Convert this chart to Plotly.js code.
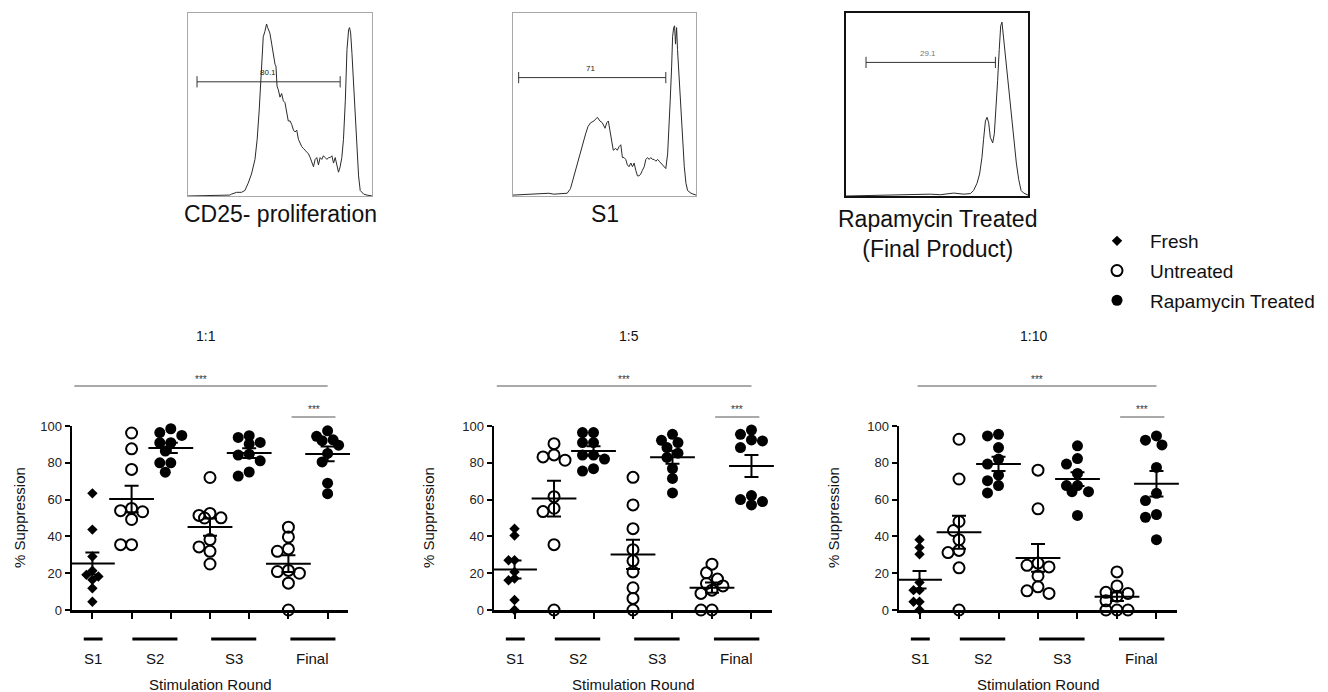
<!DOCTYPE html>
<html><head><meta charset="utf-8">
<script src="https://cdn.plot.ly/plotly-3.0.1.min.js"></script>
<style>html,body{margin:0;padding:0;background:#fff}#chart{width:1328px;height:692px}</style>
</head><body><div id="chart"></div>
<script>
// ---------- labels ----------
const roundLabels = ['S1', 'S2', 'S3', 'Final'];
const ratioLabels = ['1:1', '1:5', '1:10'];
const seriesNames = ['Fresh', 'Untreated', 'Rapamycin Treated'];
const histTitles = ['CD25- proliferation', 'S1', 'Rapamycin Treated<br>(Final Product)'];
const gateLabels = ['80.1', '71', '29.1'];

// ---------- % suppression, ratio 1:1 ----------
const r1_fresh_S1 = [63.4, 43.7, 29.1, 21.3, 19.1, 18.2, 16.4, 11.8, 4.5];
const r1_untreated_S2 = [96.2, 87.6, 76.4, 55.2, 54.0, 53.4, 49.2, 35.5, 35.5];
const r1_rapa_S2 = [98.5, 96.4, 94.9, 90.9, 90.9, 86.4, 80.0, 80.0, 74.9];
const r1_untreated_S3 = [72.0, 52.5, 51.4, 50.1, 50.0, 38.3, 34.3, 31.9, 25.0];
const r1_rapa_S3 = [94.7, 93.8, 91.1, 90.2, 84.7, 84.2, 81.1, 75.0, 72.8];
const r1_untreated_Final = [45.0, 39.7, 33.2, 31.9, 21.5, 20.9, 20.0, 14.6, 0];
const r1_rapa_Final = [97.4, 94.4, 92.5, 92.0, 89.6, 85.1, 80.5, 68.9, 63.2];
// ---------- ratio 1:5 ----------
const r5_fresh_S1 = [44.2, 40.5, 27.0, 27.0, 20.7, 17.1, 16.2, 5.4, 0];
const r5_untreated_S2 = [90.4, 84.3, 83.2, 81.4, 61.6, 55.3, 53.5, 35.5, 0];
const r5_rapa_S2 = [96.4, 96.4, 91.0, 91.0, 84.2, 84.2, 82.0, 76.8, 75.5];
const r5_untreated_S3 = [72.1, 57.1, 44.2, 32.8, 26.7, 20.7, 12.1, 6.3, 0];
const r5_rapa_S3 = [95.5, 92.2, 91.0, 88.3, 85.2, 82.9, 76.9, 71.5, 63.6];
const r5_untreated_Final = [24.9, 20.2, 16.8, 14.4, 13.1, 10.8, 9.0, 0, 0];
const r5_rapa_Final = [97.8, 95.5, 92.4, 91.9, 88.3, 62.2, 60.0, 58.9, 57.1];
// ---------- ratio 1:10 ----------
const r10_fresh_S1 = [38.2, 33.9, 30.3, 15.0, 10.8, 10.8, 4.5, 4.5, 0];
const r10_untreated_S2 = [92.8, 71.2, 48.1, 43.2, 38.2, 32.4, 31.2, 22.9, 0];
const r10_rapa_S2 = [95.5, 94.6, 88.3, 82.0, 79.3, 73.3, 70.3, 67.6, 63.6];
const r10_untreated_S3 = [76.0, 55.0, 25.5, 24.3, 23.4, 18.5, 12.6, 10.4, 9.0];
const r10_rapa_S3 = [89.2, 82.3, 79.3, 74.2, 67.6, 67.6, 64.3, 64.3, 51.4];
const r10_untreated_Final = [20.7, 13.1, 9.6, 9.0, 7.5, 5.0, 0, 0, 0];
const r10_rapa_Final = [94.6, 92.3, 89.7, 77.5, 63.4, 59.5, 51.9, 50.4, 38.2];

// ---------- proliferation histograms (channel, % of max) ----------
const h1_x = [0,227,236,264,291,309,327,345,364,376,387,395,402,409,418,427,433,438,445,455,464,473,478,484,491,500,509,518,527,536,545,555,564,573,582,591,600,609,618,627,636,645,655,664,673,682,691,700,709,718,727,736,745,755,764,773,782,791,800,809,818,827,836,845,855,864,873,878,884,891,900,909,918,927,936,955,973,1000];
const h1_y = [0,0.5,1,2,2,3,7,12,20,31,47,63,78,87,90,94,92,91,89,83,76,72,71,60,58,54,56,52,51,45,41,41,39,36,35,36,31,29,27,26,25,24,23,21,18,16,20,21,17,21,20,22,21,20,21,21,22,18,21,16,13,16,21,31,52,80,91,92,89,78,61,43,25,11,3,1,0.5,0];
const h2_x = [0,113,196,223,296,314,333,351,369,388,397,410,424,442,461,475,488,503,512,521,530,539,548,561,570,580,589,598,607,616,625,634,644,653,662,671,680,689,698,707,717,726,735,744,753,762,771,781,790,799,808,817,826,835,845,854,859,867,872,878,883,888,894,899,909,918,927,936,945,954,973,1000];
const h2_y = [0.5,1,1.5,1,1.5,4,11,18,24,31,34,38,40,41,43,41,40,37,40,41,36,32,25,26,25,27,28,21,21,20,17,16,18,16,18,14,11,11,12,14,16,20,21,20,21,20,20,19,20,19,18,17,16,15,23,38,52,71,87,92,93,83,92,80,61,43,29,16,7,3,1.5,0.5];
const h3_x = [0,335,463,518,592,647,683,701,720,734,747,756,766,775,784,793,806,815,824,833,842,850,857,863,870,881,894,907,921,936,949,962,976,1000];
const h3_y = [0,1,1,0.7,1.6,1,1.3,3,7,12,21,31,41,43,40,32,29,34,47,63,80,93,95,89,80,71,58,45,31,18,9,3,1.6,0.5];
const gate1 = [49, 827], gate2 = [31, 835], gate3 = [110, 821];
const gateLevels = [62.4, 64.7, 73];

// ---------- geometry ----------
const W = 1328, H = 692;
const FONT = 'Liberation Sans, Arial, Helvetica, sans-serif';
const px2x = p => p / W, px2y = p => 1 - p / H;
const histDomX = [[188, 372], [513, 696], [846, 1028]];
const histDomY = [px2y(196), px2y(13)];
const histTitleY = [214, 214, 234];
const gateLabelShift = [-5, -9, -14];
const panelDomX = [[72, 348], [494, 772], [899, 1177]];
const panelDomY = [px2y(610), px2y(426)];
const XR = [-0.52, 6.52];

const panels = [
  [r1_fresh_S1, r1_untreated_S2, r1_rapa_S2, r1_untreated_S3, r1_rapa_S3, r1_untreated_Final, r1_rapa_Final],
  [r5_fresh_S1, r5_untreated_S2, r5_rapa_S2, r5_untreated_S3, r5_rapa_S3, r5_untreated_Final, r5_rapa_Final],
  [r10_fresh_S1, r10_untreated_S2, r10_rapa_S2, r10_untreated_S3, r10_rapa_S3, r10_untreated_Final, r10_rapa_Final]
];
const hists = [[h1_x, h1_y, gate1], [h2_x, h2_y, gate2], [h3_x, h3_y, gate3]];

// deterministic beeswarm offsets (in category units); overlaps allowed once the columns are used up
function swarm(vals, pxPerUnit, pxPerCat, step, minDist, maxCol) {
  const order = vals.map((v, i) => i).sort((a, b) => vals[b] - vals[a]);
  const placed = [], off = new Array(vals.length).fill(0);
  const cands = [0];
  for (let c = 1; c <= maxCol; c++) cands.push(-c, c);
  order.forEach(i => {
    const y = vals[i] * pxPerUnit;
    let best = null, bestD = -1;
    for (const c of cands) {
      const x = c * step;
      const d = placed.length ? Math.min(...placed.map(p => Math.hypot(p.x - x, p.y - y))) : 1e9;
      if (d >= minDist) { best = x; break; }
      if (d > bestD + 0.5) { bestD = d; best = x; }
    }
    placed.push({x: best, y}); off[i] = best / pxPerCat;
  });
  return off;
}
const mean = a => a.reduce((s, v) => s + v, 0) / a.length;
const sem = a => { const m = mean(a); return Math.sqrt(a.reduce((s, v) => s + (v - m) ** 2, 0) / (a.length - 1)) / Math.sqrt(a.length); };

const traces = [];
const layout = {
  width: W, height: H, margin: {l: 0, r: 0, t: 0, b: 0},
  paper_bgcolor: '#fff', plot_bgcolor: 'rgba(0,0,0,0)',
  font: {family: FONT, color: '#111'},
  showlegend: true,
  legend: {x: px2x(1084), y: px2y(222), xanchor: 'left', yanchor: 'top', font: {size: 19, color: '#111'},
           itemwidth: 56, tracegroupgap: 2, bgcolor: 'rgba(0,0,0,0)'},
  shapes: [], annotations: []
};

// histograms
hists.forEach((h, k) => {
  const n = k + 1;
  const xa = 'xaxis' + n, ya = 'yaxis' + n;
  const dark = k === 2;
  layout[xa] = {domain: [px2x(histDomX[k][0]), px2x(histDomX[k][1])], range: [0, 1000], anchor: 'y' + n,
    showline: true, mirror: true, linecolor: dark ? '#111' : '#a8a8a8', linewidth: dark ? 1.6 : 1,
    showgrid: false, zeroline: false, ticks: '', showticklabels: false, fixedrange: true};
  layout[ya] = {domain: histDomY, range: [0, 100], anchor: 'x' + n,
    showline: true, mirror: true, linecolor: dark ? '#111' : '#a8a8a8', linewidth: dark ? 1.6 : 1,
    showgrid: false, zeroline: false, ticks: '', showticklabels: false, fixedrange: true};
  traces.push({type: 'scatter', mode: 'lines', x: h[0], y: h[1], xaxis: 'x' + n, yaxis: 'y' + n,
    line: {color: '#2a2a2a', width: 1}, showlegend: false, hoverinfo: 'skip'});
  traces.push({type: 'scatter', mode: 'lines+markers', x: h[2], y: [gateLevels[k], gateLevels[k]],
    xaxis: 'x' + n, yaxis: 'y' + n, line: {color: '#333', width: 1},
    marker: {symbol: 'line-ns-open', size: 8, color: '#333', line: {color: '#333', width: 1}}, showlegend: false, hoverinfo: 'skip'});
  layout.annotations.push({xref: 'x' + n, yref: 'y' + n, x: (h[2][0] + h[2][1]) / 2 + gateLabelShift[k], y: gateLevels[k] + 1.5,
    yanchor: 'bottom', text: gateLabels[k], showarrow: false, font: {size: 8, color: k === 2 ? '#777' : '#222'}});
  const cx = (histDomX[k][0] + histDomX[k][1]) / 2;
  layout.annotations.push({xref: 'paper', yref: 'paper', x: px2x(cx), y: px2y(histTitleY[k]), xanchor: 'center', yanchor: 'middle',
    text: histTitles[k], showarrow: false, font: {size: 23, color: '#111'}, align: 'center'});
});

// scatter panels
const markerFresh = {symbol: 'diamond', size: 8, color: '#000'};
const markerUntr = {symbol: 'circle-open', size: 11, color: '#000', line: {color: '#000', width: 2}};
const markerRapa = {symbol: 'circle', size: 11, color: '#000'};

panels.forEach((groups, p) => {
  const n = p + 4;
  const dom = panelDomX[p];
  const pxPerCat = (dom[1] - dom[0]) / (XR[1] - XR[0]);
  const pxPerUnit = (610 - 426) / 100;
  const xs = groups.map((g, c) => (c === 0 ? swarm(g, pxPerUnit, pxPerCat, 6, 6.5, 1)
                                           : swarm(g, pxPerUnit, pxPerCat, 5.5, 9.5, 2)).map(o => c + o));
  layout['xaxis' + n] = {domain: [px2x(dom[0]), px2x(dom[1])], range: XR, anchor: 'y' + n,
    showline: true, linecolor: '#000', linewidth: 2.5, showgrid: false, zeroline: false,
    tickmode: 'array', tickvals: [0, 1, 2, 3, 4, 5, 6], ticks: 'outside', ticklen: 6, tickwidth: 2, tickcolor: '#000',
    showticklabels: false, fixedrange: true};
  layout['yaxis' + n] = {domain: panelDomY, range: [0, 100], anchor: 'x' + n,
    showline: true, linecolor: '#000', linewidth: 2.5, showgrid: false, zeroline: false,
    tickmode: 'array', tickvals: [0, 20, 40, 60, 80, 100], ticks: 'outside', ticklen: 5, tickwidth: 2, tickcolor: '#000',
    tickfont: {size: 13, color: '#222', family: FONT}, fixedrange: true};
  const xa = 'x' + n, ya = 'y' + n;
  const first = p === 0;
  traces.push({type: 'scatter', mode: 'markers', name: seriesNames[0], legendgroup: 'a', showlegend: first,
    x: xs[0], y: groups[0], xaxis: xa, yaxis: ya, marker: markerFresh, cliponaxis: false});
  traces.push({type: 'scatter', mode: 'markers', name: seriesNames[1], legendgroup: 'b', showlegend: first,
    x: [].concat(xs[1], xs[3], xs[5]), y: [].concat(groups[1], groups[3], groups[5]), xaxis: xa, yaxis: ya,
    marker: markerUntr, cliponaxis: false});
  traces.push({type: 'scatter', mode: 'markers', name: seriesNames[2], legendgroup: 'c', showlegend: first,
    x: [].concat(xs[2], xs[4], xs[6]), y: [].concat(groups[2], groups[4], groups[6]), xaxis: xa, yaxis: ya,
    marker: markerRapa, cliponaxis: false});
  traces.push({type: 'scatter', mode: 'markers', showlegend: false, x: [0, 1, 2, 3, 4, 5, 6],
    y: groups.map(mean), xaxis: xa, yaxis: ya, cliponaxis: false,
    marker: {symbol: 'line-ew-open', size: 32, color: '#000', line: {color: '#000', width: 2}},
    error_y: {type: 'data', array: groups.map(sem), visible: true, color: '#000', thickness: 2, width: 7}});

  // x group bars + labels
  const bars = [[-0.22, 0.26], [1.02, 2.17], [3.03, 4.18], [5.05, 6.2]];
  bars.forEach((b, i) => {
    layout.shapes.push({type: 'line', xref: xa, yref: 'paper', x0: b[0], x1: b[1], y0: px2y(639), y1: px2y(639),
      line: {color: '#000', width: 3}});
    layout.annotations.push({xref: xa, yref: 'paper', x: (b[0] + b[1]) / 2, y: px2y(658), text: roundLabels[i],
      showarrow: false, xanchor: 'center', yanchor: 'middle', font: {size: 15, color: '#111'}});
  });
  const cx = px2x((dom[0] + dom[1]) / 2);
  layout.annotations.push({xref: 'paper', yref: 'paper', x: cx, y: px2y(684), text: 'Stimulation Round',
    showarrow: false, xanchor: 'center', yanchor: 'middle', font: {size: 15, color: '#111'}});
  layout.annotations.push({xref: 'paper', yref: 'paper', x: cx - px2x(4), y: px2y(336), text: ratioLabels[p],
    showarrow: false, xanchor: 'center', yanchor: 'middle', font: {size: 14, color: '#111'}});
  const ytx = [19, 428, 833][p];
  layout.annotations.push({xref: 'paper', yref: 'paper', x: px2x(ytx), y: px2y(518), text: '% Suppression', textangle: -90,
    showarrow: false, xanchor: 'center', yanchor: 'middle', font: {size: 15, color: '#111'}});

  // significance brackets
  const longStart = [-0.46, -0.45, -0.05][p];
  layout.shapes.push({type: 'line', xref: xa, yref: 'paper', x0: longStart, x1: 6.0, y0: px2y(386), y1: px2y(386),
    line: {color: '#555', width: 1}});
  layout.annotations.push({xref: xa, yref: 'paper', x: (longStart + 6.0) / 2, y: px2y(379), text: '***',
    showarrow: false, xanchor: 'center', yanchor: 'middle', font: {size: 10, color: '#333'}});
  layout.shapes.push({type: 'line', xref: xa, yref: 'paper', x0: 5.08, x1: 6.2, y0: px2y(417), y1: px2y(417),
    line: {color: '#555', width: 1}});
  layout.annotations.push({xref: xa, yref: 'paper', x: 5.64, y: px2y(410), text: '***',
    showarrow: false, xanchor: 'center', yanchor: 'middle', font: {size: 10, color: '#333'}});
});

Plotly.newPlot('chart', traces, layout, {displayModeBar: false, staticPlot: true});
</script></body></html>
